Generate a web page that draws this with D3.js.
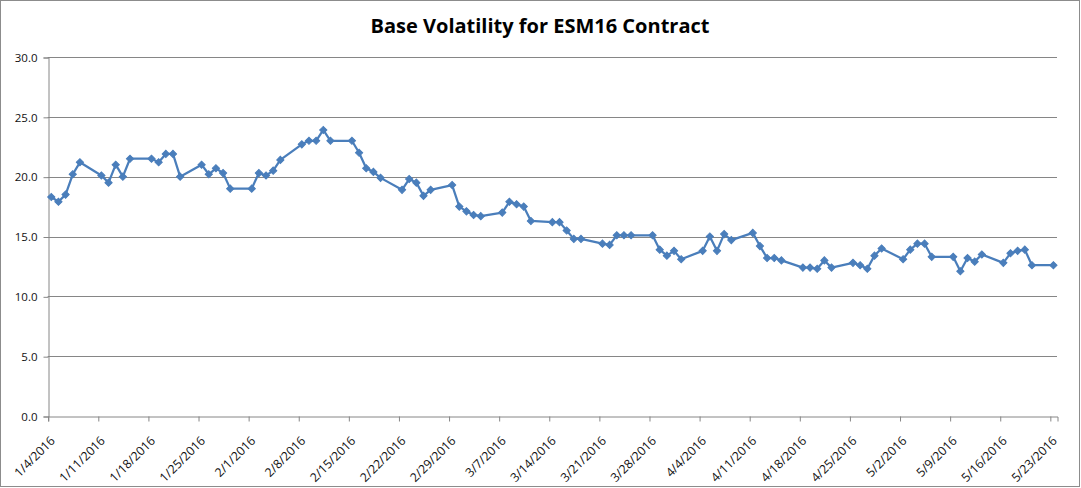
<!DOCTYPE html>
<html>
<head>
<meta charset="utf-8">
<script src="https://cdn.jsdelivr.net/npm/d3@7"></script>
<style>
  body { margin: 0; background: #fff; }
  text { font-family: "Open Sans", sans-serif; }
</style>
</head>
<body>
<svg id="chart" width="1081" height="488"></svg>
<script>
// trading days and base volatility values
var dates = [
  "2016-01-04","2016-01-05","2016-01-06","2016-01-07","2016-01-08",
  "2016-01-11","2016-01-12","2016-01-13","2016-01-14","2016-01-15",
  "2016-01-18","2016-01-19","2016-01-20","2016-01-21","2016-01-22",
  "2016-01-25","2016-01-26","2016-01-27","2016-01-28","2016-01-29",
  "2016-02-01","2016-02-02","2016-02-03","2016-02-04","2016-02-05",
  "2016-02-08","2016-02-09","2016-02-10","2016-02-11","2016-02-12",
  "2016-02-15","2016-02-16","2016-02-17","2016-02-18","2016-02-19",
  "2016-02-22","2016-02-23","2016-02-24","2016-02-25","2016-02-26",
  "2016-02-29","2016-03-01","2016-03-02","2016-03-03","2016-03-04",
  "2016-03-07","2016-03-08","2016-03-09","2016-03-10","2016-03-11",
  "2016-03-14","2016-03-15","2016-03-16","2016-03-17","2016-03-18",
  "2016-03-21","2016-03-22","2016-03-23","2016-03-24","2016-03-25",
  "2016-03-28","2016-03-29","2016-03-30","2016-03-31","2016-04-01",
  "2016-04-04","2016-04-05","2016-04-06","2016-04-07","2016-04-08",
  "2016-04-11","2016-04-12","2016-04-13","2016-04-14","2016-04-15",
  "2016-04-18","2016-04-19","2016-04-20","2016-04-21","2016-04-22",
  "2016-04-25","2016-04-26","2016-04-27","2016-04-28","2016-04-29",
  "2016-05-02","2016-05-03","2016-05-04","2016-05-05","2016-05-06",
  "2016-05-09","2016-05-10","2016-05-11","2016-05-12","2016-05-13",
  "2016-05-16","2016-05-17","2016-05-18","2016-05-19","2016-05-20",
  "2016-05-23"
];

var volatility = [
  18.3, 17.9, 18.5, 20.2, 21.2,
  20.1, 19.5, 21.0, 20.0, 21.5,
  21.5, 21.2, 21.9, 21.9, 20.0,
  21.0, 20.2, 20.7, 20.3, 19.0,
  19.0, 20.3, 20.1, 20.5, 21.4,
  22.7, 23.0, 23.0, 23.9, 23.0,
  23.0, 22.0, 20.7, 20.4, 19.9,
  18.9, 19.8, 19.5, 18.4, 18.9,
  19.3, 17.5, 17.1, 16.8, 16.7,
  17.0, 17.9, 17.7, 17.5, 16.3,
  16.2, 16.2, 15.5, 14.8, 14.8,
  14.4, 14.3, 15.1, 15.1, 15.1,
  15.1, 13.9, 13.4, 13.8, 13.1,
  13.8, 15.0, 13.8, 15.2, 14.7,
  15.3, 14.2, 13.2, 13.2, 13.0,
  12.4, 12.4, 12.3, 13.0, 12.4,
  12.8, 12.6, 12.3, 13.4, 14.0,
  13.1, 13.9, 14.4, 14.4, 13.3,
  13.3, 12.1, 13.2, 12.9, 13.5,
  12.8, 13.6, 13.8, 13.9, 12.6,
  12.6
];

var yTicks = [0, 5, 10, 15, 20, 25, 30];
var title = "Base Volatility for ESM16 Contract";

var svg = d3.select("#chart");
var parse = d3.timeParse("%Y-%m-%d");

var plotLeft = 47.7, plotRight = 1057, plotTop = 57, plotBottom = 416;

// outer chart border
svg.append("rect")
  .attr("x", 0.5).attr("y", 0.5)
  .attr("width", 1079).attr("height", 486)
  .attr("fill", "#fff")
  .attr("stroke", "#8c8c8c")
  .attr("stroke-width", 1);

var x = d3.scaleTime()
  .domain([parse("2016-01-04"), parse("2016-05-24")])
  .range([plotLeft, plotRight]);

var y = d3.scaleLinear()
  .domain([0, 30])
  .range([plotBottom, plotTop]);

var data = dates.map(function(d, i) {
  // points sit in the middle of each day slot
  return { date: d3.timeHour.offset(parse(d), 12), value: volatility[i] };
});

// gridlines
svg.append("g")
  .selectAll("line")
  .data(yTicks.filter(function(t) { return t > 0; }))
  .enter().append("line")
  .attr("x1", plotLeft).attr("x2", plotRight)
  .attr("y1", function(d) { return Math.round(y(d)) + 0.5; })
  .attr("y2", function(d) { return Math.round(y(d)) + 0.5; })
  .attr("stroke", "#868686")
  .attr("stroke-width", 1);

// y axis
var yAxis = svg.append("g")
  .attr("transform", "translate(" + (Math.round(plotLeft) + 0.5) + ",0.5)")
  .call(d3.axisLeft(y).tickValues(yTicks).tickSize(5).tickPadding(6).tickFormat(d3.format(".1f")));

yAxis.select(".domain").attr("stroke", "#868686");
yAxis.selectAll(".tick line").attr("stroke", "#868686");
yAxis.selectAll(".tick text")
  .attr("font-family", "Open Sans, sans-serif")
  .attr("font-size", 11.5)
  .attr("fill", "#111");

// x axis with weekly ticks
var xTicks = d3.timeDay.range(parse("2016-01-04"), parse("2016-05-24"), 7);

var xAxis = svg.append("g")
  .attr("transform", "translate(0.5," + (Math.round(plotBottom) + 0.5) + ")")
  .call(d3.axisBottom(x).tickValues(xTicks).tickSize(5).tickFormat(d3.timeFormat("%-m/%-d/%Y")));

xAxis.select(".domain").attr("stroke", "#868686");
xAxis.selectAll(".tick line").attr("stroke", "#868686");
xAxis.selectAll(".tick text")
  .attr("font-family", "Open Sans, sans-serif")
  .attr("font-size", 12.3)
  .attr("fill", "#111")
  .attr("text-anchor", "end")
  .attr("dy", null)
  .attr("y", 0)
  .attr("transform", "translate(7,25) rotate(-45)");

// line
var line = d3.line()
  .x(function(d) { return x(d.date); })
  .y(function(d) { return y(d.value); });

svg.append("path")
  .datum(data)
  .attr("d", line)
  .attr("fill", "none")
  .attr("stroke", "#4a7ebb")
  .attr("stroke-width", 2.25)
  .attr("stroke-linejoin", "round");

// diamond markers (square turned 45 degrees, like the spreadsheet marker)
var marker = d3.symbol().type(d3.symbolSquare).size(26);

svg.append("g")
  .selectAll("path")
  .data(data)
  .enter().append("path")
  .attr("d", marker)
  .attr("transform", function(d) { return "translate(" + x(d.date) + "," + y(d.value) + ") rotate(45)"; })
  .attr("fill", "#4a7ebb")
  .attr("stroke", "#4a7ebb")
  .attr("stroke-width", 1);

// title
svg.append("text")
  .attr("x", 540)
  .attr("y", 33)
  .attr("text-anchor", "middle")
  .attr("font-family", "Open Sans, sans-serif")
  .attr("font-weight", "bold")
  .attr("font-size", 20)
  .attr("fill", "#000")
  .text(title);
</script>
</body>
</html>
